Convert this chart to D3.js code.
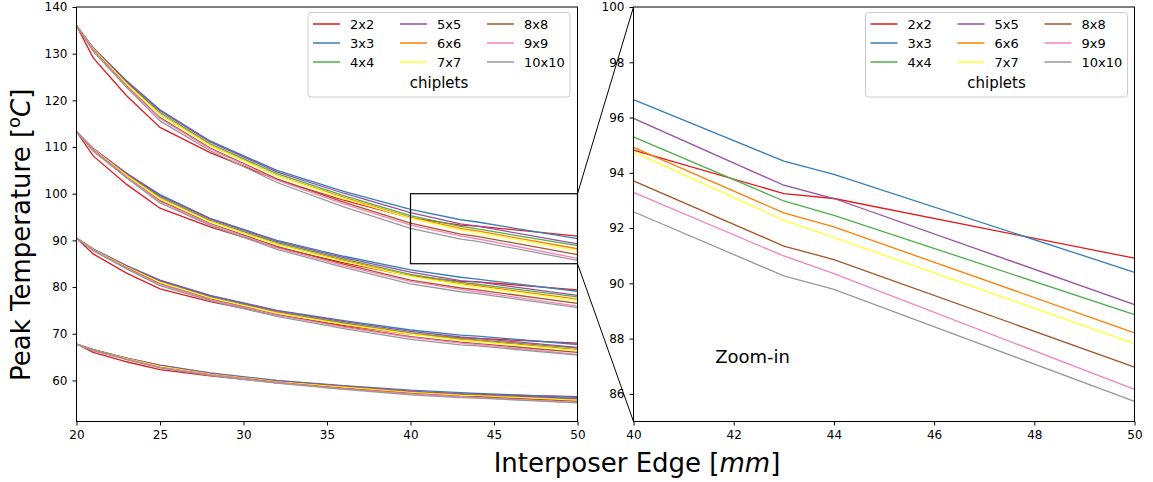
<!DOCTYPE html>
<html>
<head>
<meta charset="utf-8">
<script src="https://cdn.jsdelivr.net/npm/d3@7"></script>
<style>
  body { margin: 0; background: #fff; }
  svg { display: block; font-family: 'DejaVu Sans', sans-serif; }
</style>
</head>
<body>
<svg id="chart" width="1153" height="482"></svg>
<script>
const edge = [20, 21, 23, 25, 28, 32, 36, 40, 43, 44, 50];
const chiplets = ['2x2', '3x3', '4x4', '5x5', '6x6', '7x7', '8x8', '9x9', '10x10'];

// peak temperature, one row per chiplet layout (same order as chiplets), one array per curve family
const peakT1 = [
  [136, 129.1, 121.0, 114.2, 108.8, 103.0, 98.6, 94.82, 93.25, 93.07, 90.91],
  [136, 131.3, 124.2, 118.0, 111.3, 105.0, 100.5, 96.65, 94.42, 93.94, 90.40],
  [136, 131.1, 123.8, 117.4, 110.7, 104.3, 99.6, 95.30, 92.98, 92.46, 88.87],
  [136, 131.2, 124.0, 117.8, 111.1, 104.7, 100.1, 95.97, 93.55, 93.07, 89.23],
  [136, 131.0, 123.6, 117.0, 110.4, 103.9, 99.2, 94.92, 92.55, 92.04, 88.21],
  [136, 131.0, 123.5, 116.9, 110.3, 103.8, 99.0, 94.76, 92.28, 91.66, 87.82],
  [136, 130.8, 123.1, 116.3, 109.8, 103.2, 98.2, 93.71, 91.35, 90.86, 86.97],
  [136, 130.7, 123.0, 116.1, 109.6, 102.9, 97.8, 93.29, 90.99, 90.35, 86.16],
  [136, 130.5, 122.8, 115.6, 109.2, 102.4, 97.2, 92.59, 90.27, 89.78, 85.73]
];
const peakT2 = [
  [113.3, 108.1, 102.0, 96.9, 92.9, 88.5, 85.2, 82.4, 81.2, 81.1, 79.4],
  [113.3, 109.7, 104.4, 99.8, 94.7, 90.0, 86.6, 83.7, 82.1, 81.7, 79.1],
  [113.3, 109.6, 104.1, 99.3, 94.3, 89.5, 86.0, 82.7, 81.0, 80.6, 77.9],
  [113.3, 109.7, 104.3, 99.6, 94.6, 89.8, 86.3, 83.2, 81.4, 81.1, 78.2],
  [113.3, 109.5, 104.0, 99.0, 94.1, 89.2, 85.7, 82.4, 80.7, 80.3, 77.4],
  [113.3, 109.5, 103.9, 98.9, 94.0, 89.1, 85.5, 82.3, 80.5, 80.0, 77.1],
  [113.3, 109.4, 103.6, 98.5, 93.6, 88.7, 84.9, 81.5, 79.8, 79.4, 76.5],
  [113.3, 109.3, 103.5, 98.3, 93.5, 88.4, 84.6, 81.2, 79.5, 79.0, 75.9],
  [113.3, 109.1, 103.4, 98.0, 93.2, 88.1, 84.2, 80.7, 79.0, 78.6, 75.6]
];
const peakT3 = [
  [90.5, 87.1, 83.0, 79.6, 76.9, 74.0, 71.8, 69.9, 69.1, 69.0, 68.0],
  [90.5, 88.2, 84.6, 81.5, 78.2, 75.0, 72.8, 70.8, 69.7, 69.5, 67.7],
  [90.5, 88.1, 84.4, 81.2, 77.9, 74.7, 72.3, 70.2, 69.0, 68.7, 66.9],
  [90.5, 88.1, 84.5, 81.4, 78.1, 74.9, 72.6, 70.5, 69.3, 69.0, 67.1],
  [90.5, 88.0, 84.3, 81.0, 77.7, 74.5, 72.1, 70.0, 68.8, 68.5, 66.6],
  [90.5, 88.0, 84.3, 81.0, 77.7, 74.4, 72.0, 69.9, 68.6, 68.3, 66.4],
  [90.5, 87.9, 84.1, 80.7, 77.4, 74.1, 71.6, 69.4, 68.2, 67.9, 66.0],
  [90.5, 87.9, 84.0, 80.6, 77.3, 74.0, 71.4, 69.2, 68.0, 67.7, 65.6],
  [90.5, 87.8, 83.9, 80.3, 77.1, 73.7, 71.1, 68.8, 67.6, 67.4, 65.4]
];
const peakT4 = [
  [67.8, 66.0, 64.0, 62.3, 61.0, 59.5, 58.4, 57.5, 57.1, 57.0, 56.5],
  [67.8, 66.6, 64.8, 63.3, 61.6, 60.0, 58.9, 57.9, 57.4, 57.2, 56.4],
  [67.8, 66.5, 64.7, 63.1, 61.4, 59.8, 58.7, 57.6, 57.0, 56.9, 56.0],
  [67.8, 66.6, 64.8, 63.2, 61.5, 59.9, 58.8, 57.7, 57.1, 57.0, 56.1],
  [67.8, 66.5, 64.7, 63.0, 61.4, 59.7, 58.6, 57.5, 56.9, 56.8, 55.8],
  [67.8, 66.5, 64.6, 63.0, 61.3, 59.7, 58.5, 57.4, 56.8, 56.7, 55.7],
  [67.8, 66.5, 64.5, 62.8, 61.2, 59.6, 58.3, 57.2, 56.6, 56.5, 55.5],
  [67.8, 66.4, 64.5, 62.8, 61.2, 59.5, 58.2, 57.1, 56.5, 56.3, 55.3],
  [67.8, 66.4, 64.5, 62.7, 61.1, 59.4, 58.1, 56.9, 56.3, 56.2, 55.2]
];
const families = [peakT1, peakT2, peakT3, peakT4];

const mainTicksX = [20, 25, 30, 35, 40, 45, 50];
const mainTicksY = [60, 70, 80, 90, 100, 110, 120, 130, 140];
const zoomTicksX = [40, 42, 44, 46, 48, 50];
const zoomTicksY = [86, 88, 90, 92, 94, 96, 98, 100];
const zoomBox = { x: [40, 50], y: [85, 100] };

const svg = d3.select('#chart');
const color = d3.scaleOrdinal(chiplets, d3.schemeSet1);

const main = { left: 76.5, right: 577.5, top: 7, bottom: 421.5 };
const inset = { left: 633.5, right: 1134.5, top: 7, bottom: 421.5 };

const x1 = d3.scaleLinear([20, 50], [main.left, main.right]);
const y1 = d3.scaleLinear([51.2, 140], [main.bottom, main.top]);
const x2 = d3.scaleLinear(zoomBox.x, [inset.left, inset.right]);
const y2 = d3.scaleLinear(zoomBox.y, [inset.bottom, inset.top]);

svg.append('defs').append('clipPath').attr('id', 'clipZoom')
  .append('rect')
  .attr('x', inset.left).attr('y', inset.top)
  .attr('width', inset.right - inset.left).attr('height', inset.bottom - inset.top);

const drawLines = (g, x, y) => {
  const line = d3.line().x((d, i) => x(edge[i])).y(d => y(d));
  families.forEach(fam => {
    g.append('g')
      .selectAll('path')
      .data(fam)
      .enter()
      .append('path')
      .attr('d', line)
      .attr('fill', 'none')
      .attr('stroke', (d, i) => color(chiplets[i]))
      .attr('stroke-width', 1.3);
  });
};

const drawAxes = (box, x, y, tx, ty) => {
  const gx = svg.append('g')
    .attr('transform', `translate(0,${box.bottom})`)
    .call(d3.axisBottom(x).tickValues(tx).tickSize(4).tickPadding(5).tickFormat(d3.format('d')));
  const gy = svg.append('g')
    .attr('transform', `translate(${box.left},0)`)
    .call(d3.axisLeft(y).tickValues(ty).tickSize(4).tickPadding(5).tickFormat(d3.format('d')));
  [gx, gy].forEach(g => {
    g.select('.domain').remove();
    g.selectAll('text').attr('font-size', 12).attr('font-family', 'DejaVu Sans').attr('fill', '#000');
    g.selectAll('line').attr('stroke', '#000');
  });
  svg.append('rect')
    .attr('x', box.left).attr('y', box.top)
    .attr('width', box.right - box.left).attr('height', box.bottom - box.top)
    .attr('fill', 'none').attr('stroke', '#000').attr('stroke-width', 1);
};

const drawLegend = (left, top) => {
  const g = svg.append('g').attr('transform', `translate(${left},${top})`);
  g.append('rect')
    .attr('width', 262).attr('height', 84.5).attr('rx', 3)
    .attr('fill', '#fff').attr('fill-opacity', 0.8)
    .attr('stroke', '#ccc').attr('stroke-width', 1);
  chiplets.forEach((c, i) => {
    const col = Math.floor(i / 3), row = i % 3;
    const cx = 5 + col * 87, cy = 11.5 + row * 19;
    g.append('line')
      .attr('x1', cx).attr('x2', cx + 27).attr('y1', cy).attr('y2', cy)
      .attr('stroke', color(c)).attr('stroke-width', 1.5);
    g.append('text')
      .attr('x', cx + 37).attr('y', cy + 4.6)
      .attr('font-size', 13).text(c);
  });
  g.append('text')
    .attr('x', 131).attr('y', 75.5)
    .attr('text-anchor', 'middle').attr('font-size', 15)
    .text('chiplets');
};

// main panel
drawLines(svg.append('g'), x1, y1);
drawAxes(main, x1, y1, mainTicksX, mainTicksY);

// zoomed panel
drawLines(svg.append('g').attr('clip-path', 'url(#clipZoom)'), x2, y2);
drawAxes(inset, x2, y2, zoomTicksX, zoomTicksY);

// inset marker and connectors
svg.append('rect')
  .attr('x', x1(zoomBox.x[0])).attr('y', y1(zoomBox.y[1]))
  .attr('width', x1(zoomBox.x[1]) - x1(zoomBox.x[0]))
  .attr('height', y1(zoomBox.y[0]) - y1(zoomBox.y[1]))
  .attr('fill', 'none').attr('stroke', '#000').attr('stroke-width', 1.2);
svg.append('line')
  .attr('x1', x1(zoomBox.x[1])).attr('y1', y1(zoomBox.y[1]))
  .attr('x2', inset.left).attr('y2', inset.top)
  .attr('stroke', '#000').attr('stroke-width', 1);
svg.append('line')
  .attr('x1', x1(zoomBox.x[1])).attr('y1', y1(zoomBox.y[0]))
  .attr('x2', inset.left).attr('y2', inset.bottom)
  .attr('stroke', '#000').attr('stroke-width', 1);

drawLegend(308, 12.5);
drawLegend(865.5, 12.5);

svg.append('text')
  .attr('x', x2(41.63)).attr('y', y2(87.1))
  .attr('font-size', 18).text('Zoom-in');

// axis titles
const xt = svg.append('text')
  .attr('x', 637).attr('y', 472)
  .attr('text-anchor', 'middle').attr('font-size', 26);
xt.append('tspan').text('Interposer Edge [');
xt.append('tspan').attr('font-style', 'italic').text('mm');
xt.append('tspan').text(']');

const yt = svg.append('text')
  .attr('transform', 'translate(30,381) rotate(-90)')
  .attr('font-size', 26);
yt.append('tspan').text('Peak Temperature [');
yt.append('tspan').attr('font-size', 18).attr('dy', -10).text('o');
yt.append('tspan').attr('font-style', 'italic').attr('dy', 10).text('C');
yt.append('tspan').text(']');
</script>
</body>
</html>
